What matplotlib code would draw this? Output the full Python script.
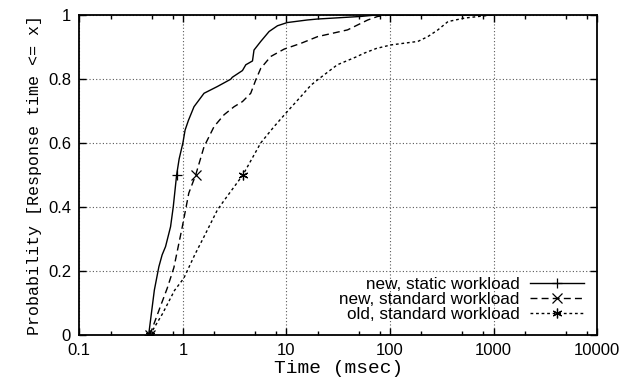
import matplotlib
matplotlib.use("Agg")
import matplotlib.pyplot as plt
from matplotlib.ticker import LogLocator, FixedLocator, NullFormatter, FuncFormatter

# ---- data ----
static_x = [0.467, 0.53, 0.586, 0.63, 0.68, 0.76, 0.807, 0.87, 0.92, 1.0, 1.05, 1.13, 1.28,
            1.6, 2.15, 2.9, 3.0, 3.76, 4.05, 4.7, 4.86, 5.65, 6.8, 8.2, 10.2, 15.9, 20, 52, 76, 1000]
static_y = [0.0, 0.14, 0.213, 0.25, 0.276, 0.338, 0.4, 0.5, 0.55, 0.6, 0.64, 0.67, 0.713,
            0.755, 0.776, 0.799, 0.805, 0.826, 0.844, 0.856, 0.89, 0.917, 0.948, 0.966, 0.976,
            0.984, 0.987, 0.995, 1.0, 1.0]

std_new_x = [0.48, 0.6, 0.706, 0.818, 0.987, 1.14, 1.33, 1.6, 2.0, 2.5, 3.12, 3.76, 4.52, 5.06,
             5.65, 7.06, 9.5, 13.8, 20, 38.9, 61, 76, 100, 1000]
std_new_y = [0.0, 0.085, 0.146, 0.21, 0.338, 0.443, 0.5, 0.588, 0.651, 0.688, 0.713, 0.729,
             0.755, 0.797, 0.833, 0.87, 0.893, 0.911, 0.932, 0.953, 0.984, 0.995, 1.0, 1.0]

std_old_x = [0.48, 0.635, 0.83, 1.02, 1.3, 1.6, 2.15, 2.5, 3.8, 5.65, 7.6, 10.2, 13.8, 17.2, 20,
             31, 47.5, 56, 73.8, 102, 186, 232, 290, 363, 525, 820, 1000]
std_old_y = [0.0, 0.066, 0.139, 0.177, 0.25, 0.307, 0.39, 0.42, 0.5, 0.6, 0.651, 0.698, 0.745,
             0.78, 0.797, 0.844, 0.869, 0.88, 0.895, 0.906, 0.917, 0.932, 0.953, 0.979, 0.99,
             0.997, 1.0]

# marker positions (points drawn on each curve)
static_mk_x = [0.467, 0.87]
static_mk_y = [0.0, 0.5]
std_new_mk_x = [0.48, 1.33]
std_new_mk_y = [0.0, 0.5]
std_old_mk_x = [0.48, 3.8]
std_old_mk_y = [0.0, 0.5]

labels = ["new, static workload", "new, standard workload", "old, standard workload"]
x_ticks = [0.1, 1, 10, 100, 1000, 10000]
x_tick_labels = ["0.1", "1", "10", "100", "1000", "10000"]
y_ticks = [0, 0.2, 0.4, 0.6, 0.8, 1]
y_tick_labels = ["0", "0.2", "0.4", "0.6", "0.8", "1"]

# ---- figure ----
fig = plt.figure(figsize=(6.2, 3.81), dpi=100)
ax = fig.add_axes([0.128, 0.121, 0.835, 0.840])

sans = "Liberation Sans"
mono = "Liberation Mono"

series = [
    (static_x, static_y, static_mk_x, static_mk_y, "-", "+"),
    (std_new_x, std_new_y, std_new_mk_x, std_new_mk_y, (0, (5, 3)), "x"),
    (std_old_x, std_old_y, std_old_mk_x, std_old_mk_y, (0, (2, 2)), (6, 2, 0)),
]

handles = []
for (xs, ys, mx, my, ls, mk), lab in zip(series, labels):
    ax.plot(xs, ys, color="black", linestyle=ls, linewidth=1.0)
    ax.plot(mx, my, color="black", linestyle="none", marker=mk, markersize=7,
            markeredgewidth=0.9)
    h, = ax.plot([], [], color="black", linestyle=ls, linewidth=1.0, marker=mk,
                 markersize=7, markeredgewidth=0.9, label=lab)
    handles.append(h)

ax.set_xscale("log")
ax.set_xlim(0.1, 10000)
ax.set_ylim(0, 1)

ax.xaxis.set_major_locator(FixedLocator(x_ticks))
ax.xaxis.set_major_formatter(FuncFormatter(lambda v, p: x_tick_labels[x_ticks.index(v)] if v in x_ticks else ""))
ax.xaxis.set_minor_locator(LogLocator(base=10, subs=(2, 5, 8)))
ax.xaxis.set_minor_formatter(NullFormatter())
ax.set_yticks(y_ticks)
ax.set_yticklabels(y_tick_labels)

ax.tick_params(which="both", direction="in", top=True, right=True, width=1.0)
ax.tick_params(which="major", length=5, labelsize=12, pad=6)
ax.tick_params(which="minor", length=3)
for lbl in ax.get_xticklabels() + ax.get_yticklabels():
    lbl.set_fontfamily(sans)

for s in ax.spines.values():
    s.set_linewidth(1.3)

ax.grid(True, which="major", axis="both", color="0.35", linestyle=(0, (1, 2)), linewidth=0.8)

ax.set_xlabel("Time (msec)", fontfamily=mono, fontsize=14, labelpad=1)
ax.set_ylabel("Probability [Response time <= x]", fontfamily=mono, fontsize=12, labelpad=4)

leg = ax.legend(handles=handles, loc="lower right", frameon=False, markerfirst=False,
                prop={"family": sans, "size": 12.3}, handlelength=3.2, handletextpad=0.6,
                labelspacing=0.0, borderaxespad=0.35, numpoints=1)
for t in leg.get_texts():
    t.set_ha("right")
leg._legend_box.align = "right"

fig.savefig("out.png", dpi=100)
